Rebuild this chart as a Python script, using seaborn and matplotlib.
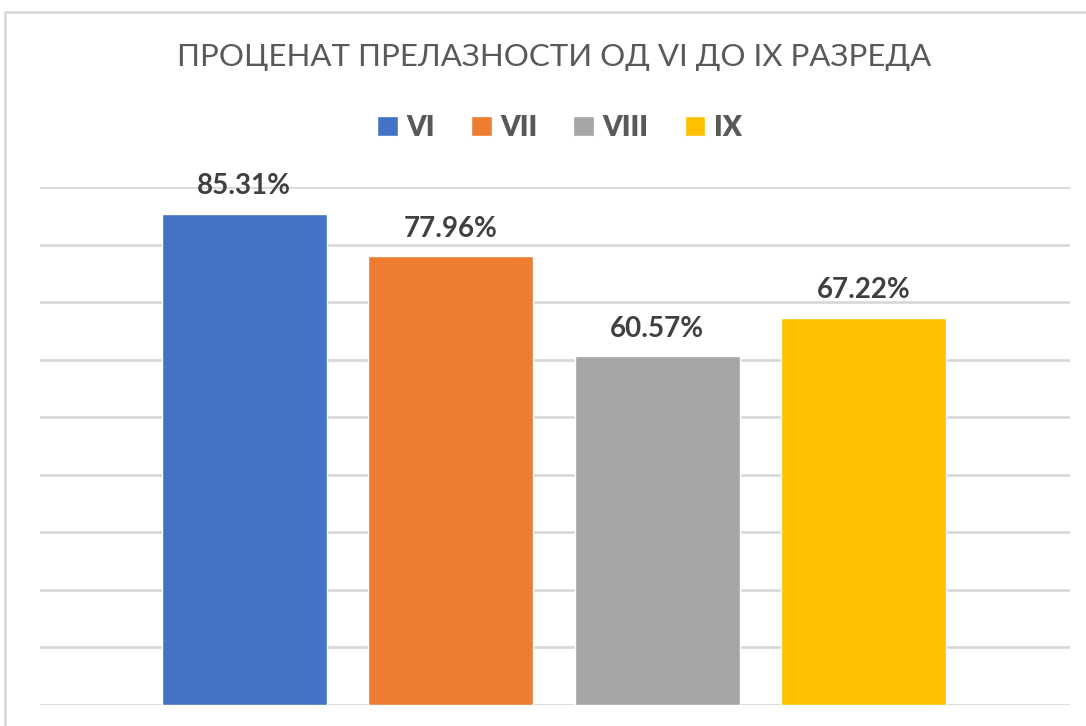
import matplotlib
matplotlib.use("Agg")
import matplotlib.pyplot as plt
import seaborn as sns
import pandas as pd
from matplotlib.patches import Rectangle, Patch

# podaci
razredi = ["VI", "VII", "VIII", "IX"]
procenat = [85.31, 77.96, 60.57, 67.22]
boje = ["#4472C4", "#ED7D31", "#A5A5A5", "#FFC000"]
naslov = "ПРОЦЕНАТ ПРЕЛАЗНОСТИ ОД VI ДО IX РАЗРЕДА"

sns.set_theme(style="white")
plt.rcParams["font.family"] = ["Lato", "DejaVu Sans"]

df = pd.DataFrame({"razred": razredi, "procenat": procenat})

fig = plt.figure(figsize=(10.86, 7.26), dpi=100)
ax = fig.add_axes([40 / 1086, 21 / 726, 1030 / 1086, 518 / 726])

sns.barplot(data=df, x="razred", y="procenat", hue="razred",
            palette=boje, width=0.8, saturation=1, legend=False, ax=ax)

ax.set_ylim(0, 90)
ax.set_xlim(-0.99, 4.0)
ax.set_yticks(range(0, 91, 10))
ax.yaxis.grid(True, color="#D9D9D9", linewidth=2)
ax.set_axisbelow(True)
ax.set_xticks([])
ax.set_yticklabels([])
ax.tick_params(left=False, bottom=False)
ax.set_xlabel("")
ax.set_ylabel("")
for s in ax.spines.values():
    s.set_visible(False)

for i, v in enumerate(procenat):
    ax.annotate(f"{v:.2f}%", (i, v), xytext=(0, 20), textcoords="offset points",
                ha="center", va="center", fontsize=20, fontweight="bold",
                color="#404040")

fig.text(554 / 1086, 1 - 57 / 726, naslov, ha="center", va="center",
         fontsize=22.5, color="#595959")

handles = [Patch(facecolor=c, label=r) for c, r in zip(boje, razredi)]
leg = fig.legend(handles=handles, loc="center", bbox_to_anchor=(0.515, 1 - 128 / 726),
                 ncol=4, frameon=False, handlelength=0.75, handleheight=0.75,
                 handletextpad=0.3, columnspacing=1.3,
                 prop={"size": 20, "weight": "heavy"})
for t in leg.get_texts():
    t.set_color("#595959")

# okvir oko grafika
fig.patches.append(Rectangle((5 / 1086, -0.1), 1.2, 1.1 - 12 / 726,
                             transform=fig.transFigure, fill=False,
                             edgecolor="#D9D9D9", linewidth=2))

fig.savefig("out.png", dpi=100, facecolor="white")
